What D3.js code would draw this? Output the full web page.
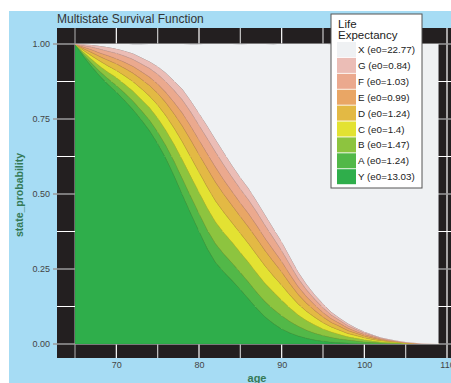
<!DOCTYPE html>
<html>
<head>
<meta charset="utf-8">
<script src="https://cdn.jsdelivr.net/npm/d3@7"></script>
<style>
  body { margin: 0; background: #fff; }
  svg { display: block; font-family: "Liberation Sans", Arial, sans-serif; }
</style>
</head>
<body>
<div id="chart"></div>
<script>
// ages on the x axis
const ages = [65,66,67,68,69,70,71,72,73,74,75,76,77,78,79,80,81,82,83,84,85,86,87,88,89,
  90,91,92,93,94,95,96,97,98,99,100,101,102,103,104,105,106,107,108,109];

// state probabilities per age
const stateY = [1.000,0.960,0.925,0.893,0.865,0.840,0.812,0.782,0.748,0.712,0.668,0.618,0.560,0.497,0.435,
  0.376,0.318,0.272,0.240,0.212,0.182,0.150,0.118,0.090,0.068,0.050,0.037,0.027,0.019,0.013,
  0.009,0.006,0.004,0.003,0.002,0.001,0,0,0,0,0,0,0,0,0];
const stateA = [0,.006,.011,.015,.019,.022,.025,.028,.031,.035,.039,.043,.048,.053,.057,
  .059,.062,.062,.060,.058,.056,.056,.054,.051,.048,.044,.038,.032,.027,.023,
  .019,.016,.013,.010,.008,.006,.005,.003,.002,.002,.001,0,0,0,0];
const stateB = [0,.007,.013,.018,.022,.026,.029,.033,.037,.041,.046,.051,.057,.063,.067,
  .071,.073,.073,.071,.069,.067,.066,.064,.061,.057,.052,.045,.038,.032,.027,
  .022,.018,.015,.011,.009,.007,.005,.004,.003,.002,.001,.001,0,0,0];
const stateC = [0,.006,.012,.017,.021,.024,.028,.032,.036,.039,.044,.049,.054,.060,.064,
  .067,.070,.070,.068,.065,.064,.062,.061,.058,.054,.050,.043,.036,.031,.026,
  .021,.017,.014,.011,.009,.007,.005,.004,.003,.002,.001,.001,0,0,0];
const stateD = [0,.006,.011,.015,.019,.022,.025,.028,.031,.035,.039,.043,.048,.053,.057,
  .059,.062,.062,.060,.058,.056,.055,.054,.051,.048,.044,.038,.032,.027,.023,
  .019,.015,.013,.010,.008,.006,.005,.003,.002,.002,.001,.001,0,0,0];
const stateE = [0,.005,.009,.012,.015,.017,.020,.023,.025,.028,.031,.034,.038,.043,.046,
  .048,.049,.050,.048,.046,.045,.045,.043,.041,.038,.035,.031,.026,.022,.018,
  .015,.012,.010,.008,.006,.005,.004,.003,.002,.001,.001,0,.001,0,0];
const stateF = [0,.005,.009,.013,.015,.018,.021,.023,.026,.029,.032,.036,.040,.044,.047,
  .049,.051,.051,.050,.048,.047,.046,.045,.043,.040,.036,.032,.027,.023,.019,
  .016,.013,.010,.008,.006,.005,.004,.003,.002,.001,.001,.001,0,0,0];
const stateG = [0,.004,.007,.010,.013,.015,.017,.019,.021,.023,.026,.029,.032,.036,.038,
  .040,.042,.042,.041,.039,.038,.038,.036,.035,.032,.030,.026,.022,.018,.015,
  .013,.010,.008,.007,.005,.004,.003,.002,.002,.001,.001,0,.001,.001,0];
const stateX = [0,.002,.004,.007,.012,.017,.024,.031,.044,.058,.077,.097,.123,.151,.188,
  .230,.274,.318,.362,.405,.444,.482,.526,.570,.614,.660,.710,.760,.801,.837,
  .867,.892,.913,.933,.948,.960,.970,.979,.985,.990,.994,.996,.998,.999,1.000];

const stateKeys = ["Y","A","B","C","D","E","F","G","X"];
const stateSeries = [stateY, stateA, stateB, stateC, stateD, stateE, stateF, stateG, stateX];
const stateColors = ["#2fae4b","#52b848","#8dc43f","#e3e232","#e3b944","#e9a665","#eba98e","#ebbdb6","#eff1f3"];
const lifeExp = ["13.03","1.24","1.47","1.4","1.24","0.99","1.03","0.84","22.77"];
const xTicks = [70,80,90,100,110];
const yTicks = [0,0.25,0.5,0.75,1];

// build table for d3.stack
let rows = ages.map((a, i) => {
  let r = {age: a};
  stateKeys.forEach((k, j) => { r[k] = stateSeries[j][i]; });
  return r;
});

const W = 451, H = 383;
let svg = d3.select("#chart").append("svg")
  .attr("width", W).attr("height", H);

// light blue background
svg.append("rect").attr("x", 9).attr("y", 11).attr("width", W - 9).attr("height", H - 11)
  .attr("fill", "#a6dcf4");

// dark panel
let panel = {left: 57, top: 28, right: 470, bottom: 358};
svg.append("rect")
  .attr("x", panel.left).attr("y", panel.top)
  .attr("width", panel.right - panel.left).attr("height", panel.bottom - panel.top)
  .attr("fill", "#231f20");

let x = d3.scaleLinear().domain([65, 110]).range([75, 447]);
let y = d3.scaleLinear().domain([0, 1]).range([344, 44]);

// grid lines
let grid = svg.append("g");
grid.selectAll(".vmin").data([65,75,85,95,105]).enter().append("line")
  .attr("x1", d => x(d)).attr("x2", d => x(d))
  .attr("y1", panel.top).attr("y2", panel.bottom)
  .attr("stroke", d => d == 65 ? "#9a9a9a" : "#c8c8c8").attr("stroke-width", 1.2);
grid.selectAll(".vmaj").data(xTicks).enter().append("line")
  .attr("x1", d => x(d)).attr("x2", d => x(d))
  .attr("y1", panel.top).attr("y2", panel.bottom)
  .attr("stroke", "#ffffff").attr("stroke-width", 1.2);
grid.selectAll(".hmin").data([0.125,0.375,0.625,0.875]).enter().append("line")
  .attr("x1", panel.left).attr("x2", panel.right)
  .attr("y1", d => y(d)).attr("y2", d => y(d))
  .attr("stroke", "#ffffff").attr("stroke-width", 1);
grid.selectAll(".hmaj").data(yTicks).enter().append("line")
  .attr("x1", panel.left - 4).attr("x2", panel.right)
  .attr("y1", d => y(d)).attr("y2", d => y(d))
  .attr("stroke", "#9a9a9a").attr("stroke-width", 1.5);

// stacked areas
svg.append("clipPath").attr("id", "clip")
  .append("rect").attr("x", x(65)).attr("y", y(1)).attr("width", x(109) - x(65)).attr("height", y(0) - y(1));

let stack = d3.stack().keys(stateKeys);
let series = stack(rows);

let area = d3.area()
  .x(d => x(d.data.age))
  .y0(d => y(d[0]))
  .y1(d => y(d[1]));

svg.append("g").attr("clip-path", "url(#clip)")
  .selectAll("path")
  .data(series)
  .enter()
  .append("path")
    .attr("d", area)
    .attr("fill", (d, i) => stateColors[i])
    .attr("stroke", (d, i) => d3.color(stateColors[i]).darker(0.35))
    .attr("stroke-width", (d, i) => i == 8 ? 0 : 0.5);

// y axis labels
let yAxis = svg.append("g")
  .attr("transform", `translate(${panel.left - 4}, 0)`)
  .call(d3.axisLeft(y).tickValues(yTicks).tickFormat(d3.format(".2f")).tickSize(0).tickPadding(3));
yAxis.select(".domain").remove();
yAxis.selectAll("text").attr("font-size", "9px").attr("fill", "#444").attr("font-family", "Liberation Sans, Arial, sans-serif");

// x axis labels
let xAxis = svg.append("g")
  .attr("transform", `translate(0, ${panel.bottom})`)
  .call(d3.axisBottom(x).tickValues(xTicks).tickSize(0).tickPadding(4));
xAxis.select(".domain").remove();
xAxis.selectAll("text").attr("font-size", "9px").attr("fill", "#444").attr("font-family", "Liberation Sans, Arial, sans-serif");

// titles
svg.append("text").attr("x", 57).attr("y", 23)
  .attr("font-size", "12px").attr("fill", "#333")
  .text("Multistate Survival Function");

svg.append("text").attr("x", 257).attr("y", 382)
  .attr("text-anchor", "middle").attr("font-size", "11px").attr("font-weight", "bold")
  .attr("fill", "#357a57").text("age");

svg.append("text")
  .attr("transform", "translate(23, 195) rotate(-90)")
  .attr("text-anchor", "middle").attr("font-size", "10.5px").attr("font-weight", "bold")
  .attr("fill", "#357a57").text("state_probability");

// legend
let lg = svg.append("g").attr("transform", "translate(331, 14)");
lg.append("rect").attr("width", 91).attr("height", 174)
  .attr("fill", "#ffffff").attr("stroke", "#555").attr("stroke-width", 1);
lg.append("text").attr("x", 7).attr("y", 13.5).attr("font-size", "11.5px").attr("fill", "#222").text("Life");
lg.append("text").attr("x", 7).attr("y", 25).attr("font-size", "11.5px").attr("fill", "#222").text("Expectancy");

let legendOrder = d3.range(stateKeys.length).reverse();
let items = lg.selectAll(".item").data(legendOrder).enter().append("g")
  .attr("transform", (d, i) => `translate(6, ${28 + i * 15.9})`);
items.append("rect").attr("width", 19).attr("height", 15)
  .attr("fill", d => stateColors[d]);
items.append("text").attr("x", 21).attr("y", 11).attr("font-size", "9.8px").attr("fill", "#222")
  .text(d => `${stateKeys[d]} (e0=${lifeExp[d]})`);
</script>
</body>
</html>
